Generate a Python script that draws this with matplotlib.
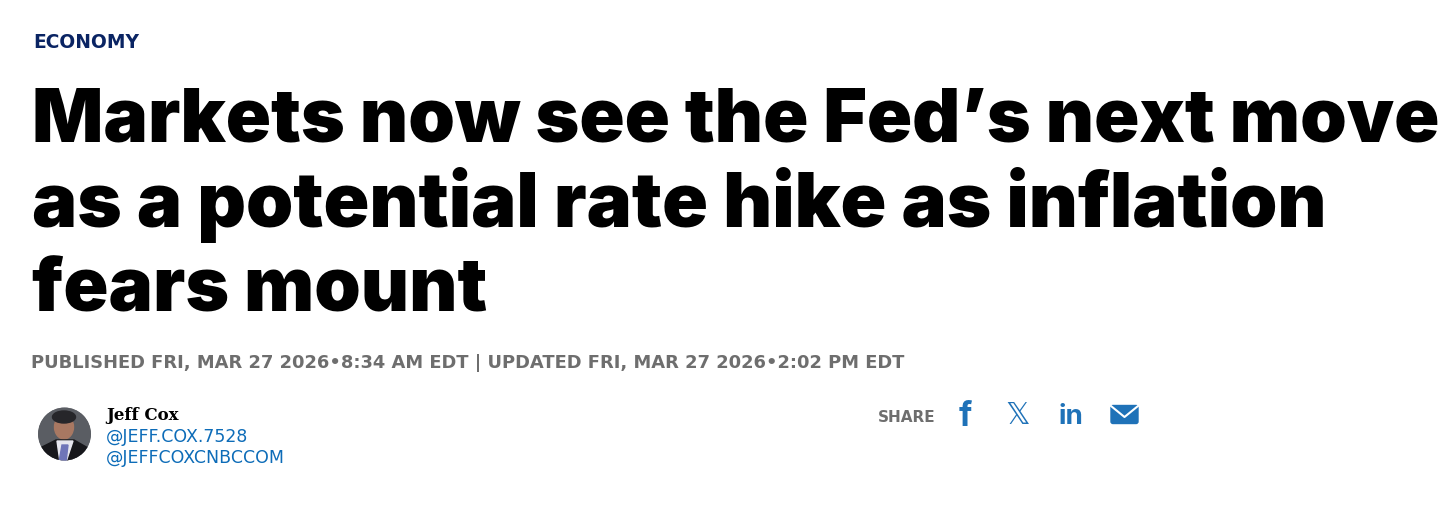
import matplotlib
matplotlib.use('Agg')
import matplotlib.pyplot as plt
from matplotlib.patches import Circle, Ellipse, Polygon, FancyBboxPatch

WIDTH = 1456
HEIGHT = 512

section = "ECONOMY"
headline = ["Markets now see the Fed’s next move",
            "as a potential rate hike as inflation",
            "fears mount"]
headline_sizes = [53.8, 54.5, 53.6]
published = "PUBLISHED FRI, MAR 27 2026•8:34 AM EDT | UPDATED FRI, MAR 27 2026•2:02 PM EDT"
author = "Jeff Cox"
handles = ["@JEFF.COX.7528", "@JEFFCOXCNBCCOM"]
share = "SHARE"

BLUE = '#0d6cb8'
ICON_BLUE = '#1f72b8'

fig = plt.figure(figsize=(WIDTH / 100, HEIGHT / 100), dpi=100)
ax = fig.add_axes([0, 0, 1, 1])
ax.set_xlim(0, WIDTH)
ax.set_ylim(HEIGHT, 0)
ax.axis('off')

# the small caps text is tracked out in the original, DejaVu gets the same width
ax.text(33, 48.5, section, family='DejaVu Sans', weight='bold', fontsize=13.4, color='#0a2463')

for line, y, size in zip(headline, [142, 227, 312], headline_sizes):
    ax.text(32, y, line, family='Inter', weight='black', fontsize=size, color='black')

ax.text(31, 367.5, published, family='DejaVu Sans', weight='bold', fontsize=12.9, color='#6e6e6e')

# author photo
clip = Circle((64.5, 434), 26.5, transform=ax.transData)
photo = [
    Circle((64.5, 434), 26.5, color='#5a5d63'),
    Ellipse((64, 427), 19, 24, color='#a87862'),
    Ellipse((64, 417), 23, 12, color='#26262a'),
    Polygon([[36, 462], [42, 447], [56, 440], [74, 440], [88, 448], [93, 462]], color='#17171b'),
    Polygon([[57, 441], [73, 441], [66, 462], [60, 462]], color='#e6e6ee'),
    Polygon([[62, 445], [68, 445], [66, 462], [59, 462]], color='#6f75b8'),
]
for p in photo:
    ax.add_patch(p)
    p.set_clip_path(clip)

ax.text(106, 420, author, family='DejaVu Serif', weight='bold', fontsize=12, color='black')
for h, y in zip(handles, [442, 463]):
    ax.text(106, y, h, family='DejaVu Sans', fontsize=12.5, color=BLUE)

ax.text(878, 422, share, family='DejaVu Sans', weight='bold', fontsize=11, color='#6e6e6e')

# share icons
ax.text(965, 417, "f", family='Inter', weight='bold', fontsize=24, color=ICON_BLUE, ha='center', va='center')
ax.text(1018, 416, "𝕏", family='DejaVu Sans', fontsize=22, color=ICON_BLUE, ha='center', va='center')
ax.text(1071, 417, "in", family='Inter', weight='bold', fontsize=20, color=ICON_BLUE, ha='center', va='center')
ax.add_patch(FancyBboxPatch((1111, 405.5), 27, 18, boxstyle='round,pad=0,rounding_size=2', color=ICON_BLUE))
ax.plot([1111, 1124.5, 1138], [406, 417, 406], color='white', lw=1.5)

fig.savefig('out.png', dpi=100)
